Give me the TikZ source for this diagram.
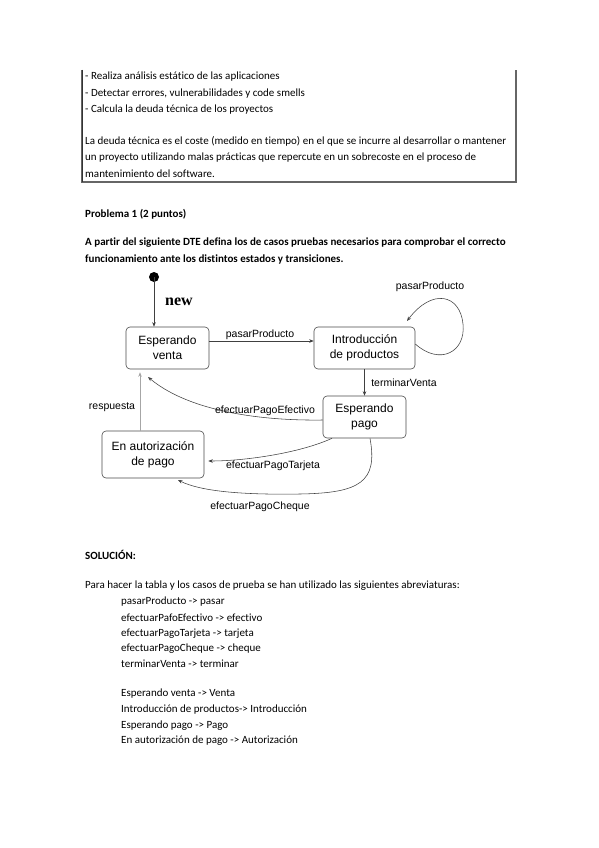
\documentclass[tikz,border=0pt]{standalone}
\usepackage{fontspec}
\setmainfont{Carlito}[Ligatures=NoCommon]
\newfontfamily\diagfont{Liberation Sans}
\newfontfamily\newwordfont{Liberation Serif}
\usetikzlibrary{arrows.meta}
\begin{document}
\begin{tikzpicture}[x=1pt,y=-1pt,
  txt/.style={anchor=west,inner sep=0pt,font=\fontsize{11}{13}\selectfont},
  btxt/.style={txt,font=\fontsize{11}{13}\selectfont\bfseries},
  state/.style={draw=black!70,line width=0.6pt,rounded corners=4pt,align=center,
    inner sep=0pt,font=\diagfont\fontsize{12}{15}\selectfont},
  lbl/.style={inner sep=0pt,font=\diagfont\fontsize{10.5}{12}\selectfont},
  tr/.style={draw=black!75,line width=0.55pt,-{Stealth[length=4.5pt,width=3.5pt]}},
  trl/.style={draw=black!35,line width=0.55pt,-{Stealth[length=4.5pt,width=3.5pt]}}]
\fill[white] (0,0) rectangle (599,848);
\path[use as bounding box] (0,0) rectangle (599,848);
% top box
\draw[black!60,line width=1.6pt] (82,70) -- (82,182) -- (516,182) -- (516,70);
\draw[black!80,line width=0.6pt] (82,70) -- (82,182);
\node[txt] (t1) at (85,77) {- Realiza análisis estático de las aplicaciones};
\node[txt] (t2) at (85,94) {- Detectar errores, vulnerabilidades y code smells};
\node[txt] (t3) at (85,110) {- Calcula la deuda técnica de los proyectos};
\node[txt] (t4) at (85,141) {La deuda técnica es el coste (medido en tiempo) en el que se incurre al desarrollar o mantener};
\node[txt] (t5) at (85,158) {un proyecto utilizando malas prácticas que repercute en un sobrecoste en el proceso de};
\node[txt] (t6) at (85,174) {mantenimiento del software.};
\node[btxt] (p1) at (85,214) {Problema 1 (2 puntos)};
\node[btxt] (p2) at (85,243) {A partir del siguiente DTE defina los de casos pruebas necesarios para comprobar el correcto};
\node[btxt] (p3) at (85,260) {funcionamiento ante los distintos estados y transiciones.};
% diagram
\fill[black] (154,277) circle (5pt) coordinate (dot);
\node[state,minimum width=83pt,minimum height=42pt] (venta) at (167.5,348) {Esperando\\venta};
\node[state,minimum width=101pt,minimum height=42pt] (intro) at (364.5,348) {Introducción\\de productos};
\node[state,minimum width=83pt,minimum height=42pt] (pago) at (364.5,417) {Esperando\\pago};
\node[state,minimum width=102pt,minimum height=47pt] (auto) at (153,454.5) {En autorización\\de pago};
\node[inner sep=0pt,font=\newwordfont\fontsize{16}{18}\selectfont\bfseries] (new) at (179,302) {new};
\coordinate (rx) at (140,0);
\coordinate (loopend) at (407,321);
\coordinate (efend) at (148,377);
\coordinate (chend) at (178,480);
\draw[tr] (dot) -- (venta.north -| dot);
\draw[tr] ([yshift=7pt]venta.east) -- ([yshift=7pt]intro.west);
\draw[tr] ([yshift=4pt]intro.east) .. controls (440,366) and (466,352) .. (463,324)
   .. controls (460,294) and (432,288) .. (loopend);
\draw[tr] (intro.south) -- (pago.north);
\draw[trl,shorten >=3pt] (auto.north -| rx) -- (venta.south -| rx);
\draw[tr] ([yshift=-3pt]pago.west) .. controls (250,421) and (185,408) .. (efend);
\draw[tr] ([xshift=-32.5pt]pago.south) .. controls (300,453) and (245,461) .. ([yshift=-6.5pt,xshift=4pt]auto.east);
\draw[tr] ([xshift=5.5pt]pago.south) .. controls (378,482) and (360,493) .. (300,494)
   .. controls (240,495) and (200,491) .. (chend);
\node[lbl] (l1) at (260,335) {pasarProducto};
\node[lbl] (l2) at (430,287) {pasarProducto};
\node[lbl] (l3) at (404,383) {terminarVenta};
\node[lbl] (l4) at (112,407) {respuesta};
\node[lbl] (l5) at (265,411) {efectuarPagoEfectivo};
\node[lbl] (l6) at (273,466) {efectuarPagoTarjeta};
\node[lbl] (l7) at (260,507) {efectuarPagoCheque};
% solution
\node[btxt] (s0) at (85,555) {SOLUCIÓN:};
\node[txt] (s1) at (85,586) {Para hacer la tabla y los casos de prueba se han utilizado las siguientes abreviaturas:};
\node[txt] (a1) at (121,602) {pasarProducto -> pasar};
\node[txt] (a2) at (121,618) {efectuarPafoEfectivo -> efectivo};
\node[txt] (a3) at (121,634) {efectuarPagoTarjeta -> tarjeta};
\node[txt] (a4) at (121,649) {efectuarPagoCheque -> cheque};
\node[txt] (a5) at (121,664) {terminarVenta -> terminar};
\node[txt] (b1) at (121,694) {Esperando venta -> Venta};
\node[txt] (b2) at (121,710) {Introducción de productos-> Introducción};
\node[txt] (b3) at (121,726) {Esperando pago -> Pago};
\node[txt] (b4) at (121,741) {En autorización de pago -> Autorización};
\end{tikzpicture}
\end{document}
